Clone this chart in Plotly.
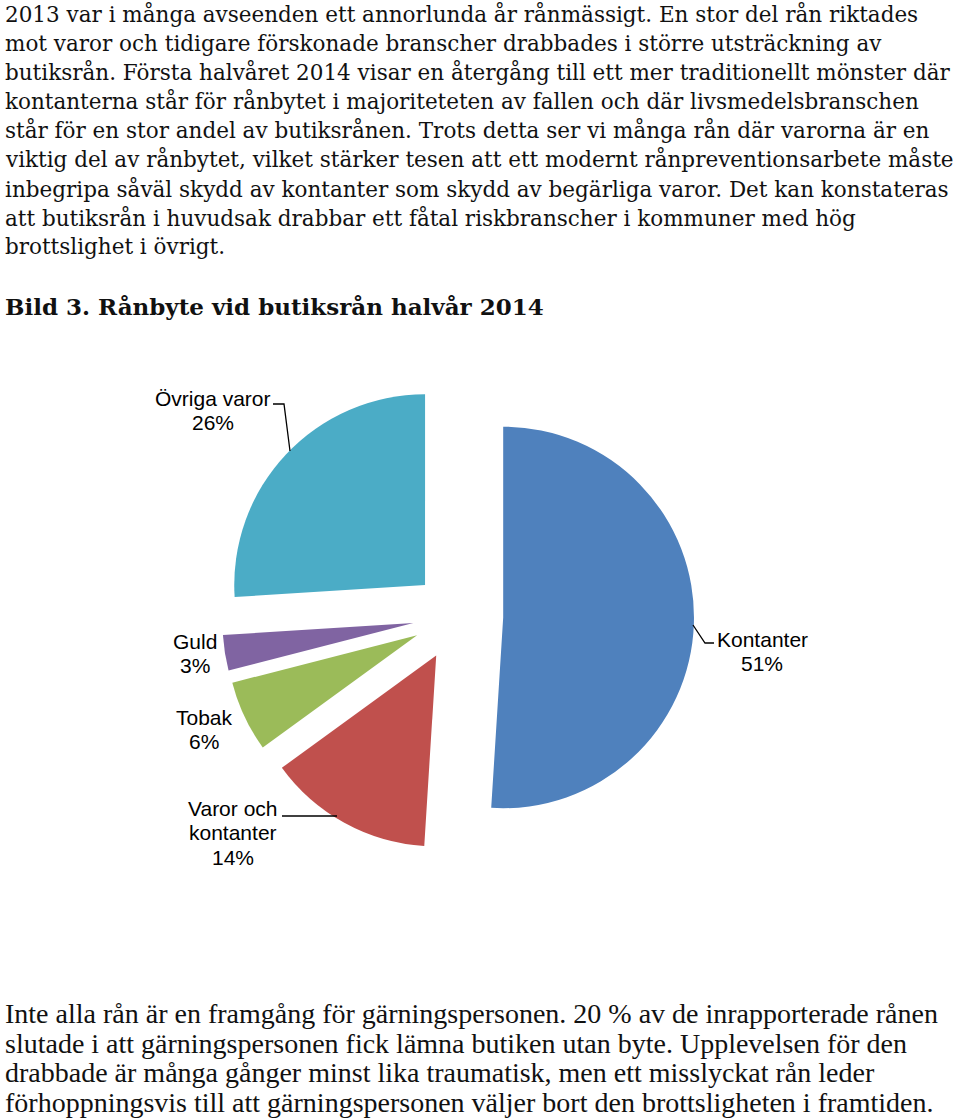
import plotly.graph_objects as go

W, H = 960, 1118

# ---- data ----
labels = ["Kontanter", "Varor och kontanter", "Tobak", "Guld", "Övriga varor"]
values = [51, 14, 6, 3, 26]
colors = ["#4F81BD", "#C0504D", "#9BBB59", "#8064A2", "#4BACC6"]

title_text = "Bild 3. Rånbyte vid butiksrån halvår 2014"

top_lines = [
    "2013 var i många avseenden ett annorlunda år rånmässigt. En stor del rån riktades",
    "mot varor och tidigare förskonade branscher drabbades i större utsträckning av",
    "butiksrån. Första halvåret 2014 visar en återgång till ett mer traditionellt mönster där",
    "kontanterna står för rånbytet i majoriteteten av fallen och där livsmedelsbranschen",
    "står för en stor andel av butiksrånen. Trots detta ser vi många rån där varorna är en",
    "viktig del av rånbytet, vilket stärker tesen att ett modernt rånpreventionsarbete måste",
    "inbegripa såväl skydd av kontanter som skydd av begärliga varor. Det kan konstateras",
    "att butiksrån i huvudsak drabbar ett fåtal riskbranscher i kommuner med hög",
    "brottslighet i övrigt.",
]

bottom_lines = [
    "Inte alla rån är en framgång för gärningspersonen. 20 % av de inrapporterade rånen",
    "slutade i att gärningspersonen fick lämna butiken utan byte. Upplevelsen för den",
    "drabbade är många gånger minst lika traumatisk, men ett misslyckat rån leder",
    "förhoppningsvis till att gärningspersonen väljer bort den brottsligheten i framtiden.",
]


def px(x):
    return x / W


def py(y):
    return 1 - y / H


fig = go.Figure()

# pie geometry (page pixels)
cx, cy, half = 458, 616, 236
fig.add_trace(go.Pie(
    labels=labels,
    values=values,
    marker=dict(colors=colors, line=dict(width=0)),
    sort=False,
    direction="clockwise",
    rotation=0,
    pull=[0.237] * len(values),
    textinfo="none",
    hoverinfo="label+percent",
    showlegend=False,
    domain=dict(x=[px(cx - half), px(cx + half)], y=[py(cy + half), py(cy - half)]),
))

annotations = []
for i, line in enumerate(top_lines):
    annotations.append(dict(
        text=line, x=px(3), y=py(14 + i * 29.1), xref="paper", yref="paper",
        xanchor="left", yanchor="middle", showarrow=False,
        font=dict(family="DejaVu Serif", size=21.5, color="#111111"),
    ))

annotations.append(dict(
    text="<b>" + title_text + "</b>", x=px(3), y=py(306), xref="paper", yref="paper",
    xanchor="left", yanchor="middle", showarrow=False,
    font=dict(family="DejaVu Serif", size=23, color="#111111"),
))

for i, line in enumerate(bottom_lines):
    annotations.append(dict(
        text=line, x=px(3), y=py(1014 + i * 29.4), xref="paper", yref="paper",
        xanchor="left", yanchor="middle", showarrow=False,
        font=dict(family="Liberation Serif", size=28, color="#111111"),
    ))

pct = {lab: f"{v}%" for lab, v in zip(labels, values)}
label_pos = {
    "Kontanter": (762, 639, ["Kontanter"]),
    "Varor och kontanter": (233, 808, ["Varor och", "kontanter"]),
    "Tobak": (204, 717, ["Tobak"]),
    "Guld": (195, 641, ["Guld"]),
    "Övriga varor": (213, 398, ["Övriga varor"]),
}
for lab in labels:
    x0, y0, parts = label_pos[lab]
    for j, t in enumerate(parts + [pct[lab]]):
        annotations.append(dict(
            text=t, x=px(x0), y=py(y0 + j * 24.5), xref="paper", yref="paper",
            xanchor="center", yanchor="middle", showarrow=False,
            font=dict(family="Liberation Sans", size=21, color="#000000"),
        ))

leaders = [
    [(273, 404), (284, 404), (290, 451)],
    [(693, 625), (705, 643), (714, 643)],
    [(282, 816), (337, 816)],
]
shapes = []
for pts in leaders:
    path = "M " + " L ".join(f"{px(a)},{py(b)}" for a, b in pts)
    shapes.append(dict(type="path", path=path, xref="paper", yref="paper",
                       line=dict(color="#000000", width=1.3)))

fig.update_layout(
    width=W, height=H,
    margin=dict(l=0, r=0, t=0, b=0),
    paper_bgcolor="white",
    plot_bgcolor="white",
    annotations=annotations,
    shapes=shapes,
)

fig.write_html(
    "out.html",
    config={"displayModeBar": False},
    post_script="document.body.style.margin='0px';document.body.style.overflow='hidden';",
)
